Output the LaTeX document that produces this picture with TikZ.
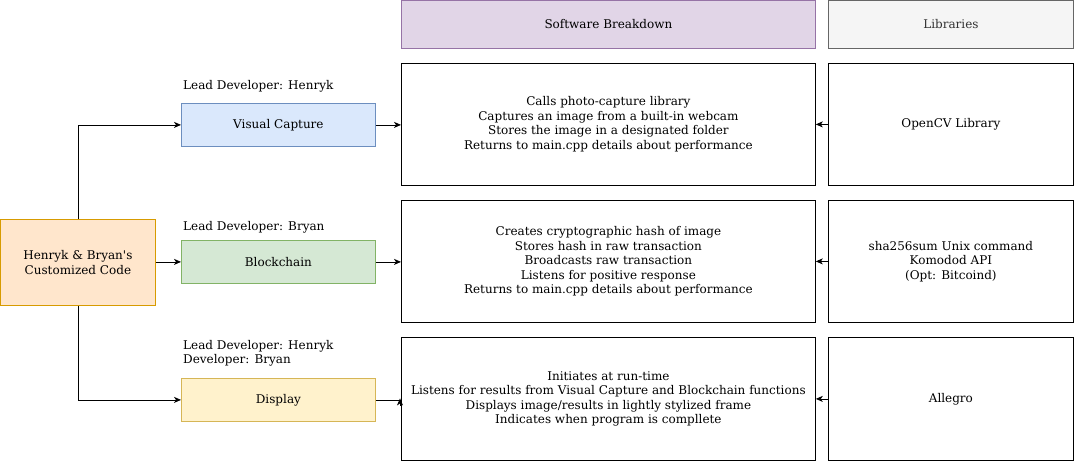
\documentclass[tikz,border=0pt]{standalone}
\usepackage{fontspec}
\setmainfont{DejaVu Serif}
\usetikzlibrary{arrows.meta,calc}
\definecolor{orfill}{HTML}{FFE6CC}\definecolor{ordraw}{HTML}{D79B00}
\definecolor{blfill}{HTML}{DAE8FC}\definecolor{bldraw}{HTML}{6C8EBF}
\definecolor{grfill}{HTML}{D5E8D4}\definecolor{grdraw}{HTML}{82B366}
\definecolor{yefill}{HTML}{FFF2CC}\definecolor{yedraw}{HTML}{D6B656}
\definecolor{pufill}{HTML}{E1D5E7}\definecolor{pudraw}{HTML}{9673A6}
\definecolor{gyfill}{HTML}{F5F5F5}\definecolor{gydraw}{HTML}{666666}
\definecolor{gytext}{HTML}{333333}
\tikzset{
  box/.style={draw, line width=0.8pt, inner sep=0pt, anchor=north west, align=center,
    font=\fontsize{12}{14.5}\selectfont},
  lbl/.style={inner sep=0pt, align=left, font=\fontsize{12}{14.4}\selectfont},
  conn/.style={line width=0.8pt, -{Stealth[length=7pt,width=6pt,inset=2pt]}}
}
\begin{document}
\begin{tikzpicture}[x=1pt,y=-1pt]
\useasboundingbox (0,0) rectangle (1074,461);
% main
\node[box, fill=orfill, draw=ordraw, minimum width=155pt, minimum height=86pt] (main) at (0,219) {Henryk \& Bryan\textquotesingle s\\Customized Code};
% modules
\node[box, fill=blfill, draw=bldraw, minimum width=194pt, minimum height=43pt] (vc) at (181,103) {Visual Capture};
\node[box, fill=grfill, draw=grdraw, minimum width=194pt, minimum height=43pt] (bc) at (181,240) {Blockchain};
\node[box, fill=yefill, draw=yedraw, minimum width=194pt, minimum height=43pt] (dis) at (181,378) {Display};
% labels
\node[lbl, anchor=west] (l1) at (183,86) {Lead Developer: Henryk};
\node[lbl, anchor=west] (l2) at (183,227) {Lead Developer: Bryan};
\node[lbl, anchor=north west] (l3) at (183,340) {Lead Developer: Henryk\\Developer: Bryan};
% headers
\node[box, fill=pufill, draw=pudraw, minimum width=414pt, minimum height=48pt] (sb) at (401,0) {Software Breakdown};
\node[box, fill=gyfill, draw=gydraw, text=gytext, minimum width=245pt, minimum height=48pt] (lib) at (828,0) {Libraries};
% content
\node[box, minimum width=414pt, minimum height=122pt] (c1) at (401,63) {Calls photo-capture library\\Captures an image from a built-in webcam\\Stores the image in a designated folder\\Returns to main.cpp details about performance};
\node[box, minimum width=414pt, minimum height=122pt] (c2) at (401,200) {Creates cryptographic hash of image\\Stores hash in raw transaction\\Broadcasts raw transaction\\Listens for positive response\\Returns to main.cpp details about performance};
\node[box, minimum width=414pt, minimum height=123pt] (c3) at (401,337) {Initiates at run-time\\Listens for results from Visual Capture and Blockchain functions\\Displays image/results in lightly stylized frame\\Indicates when program is compllete};
% libraries
\node[box, minimum width=245pt, minimum height=122pt] (b1) at (828,63) {OpenCV Library};
\node[box, minimum width=245pt, minimum height=122pt] (b2) at (828,200) {sha256sum Unix command\\Komodod API\\(Opt: Bitcoind)};
\node[box, minimum width=245pt, minimum height=123pt] (b3) at (828,337) {Allegro};
% connectors
\draw[conn] (main.north) |- (vc.west);
\draw[conn] (main.east |- bc.west) -- (bc.west);
\draw[conn] (main.south) |- (dis.west);
\draw[conn] (vc.east) -- (vc.east -| c1.west);
\draw[conn] (bc.east) -- (bc.east -| c2.west);
\coordinate (dk) at ($(dis.east -| c3.west)+(-1,0)$);
\draw[line width=0.8pt] (dis.east) -- (dk);
\draw[conn] ($(dk)+(0,6)$) -- ($(dk)+(0,-1.5)$);
\draw[conn] (b1.west) -- (b1.west -| c1.east);
\draw[conn] (b2.west) -- (b2.west -| c2.east);
\draw[conn] (b3.west) -- (b3.west -| c3.east);
\end{tikzpicture}
\end{document}
